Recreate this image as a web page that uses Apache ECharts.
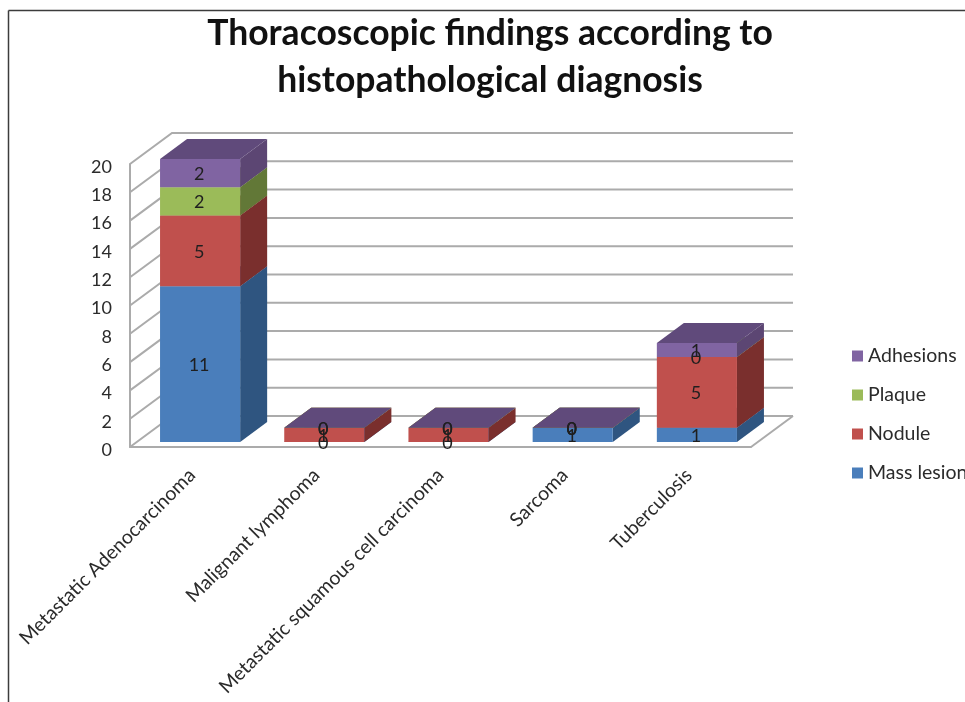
<!DOCTYPE html>
<html>
<head>
<meta charset="utf-8">
<title>Thoracoscopic findings</title>
<script src="https://cdn.jsdelivr.net/npm/echarts@6/dist/echarts.min.js"></script>
<style>
  html, body { margin: 0; padding: 0; background: #fff; overflow: hidden; }
  #chart { width: 965px; height: 702px; }
</style>
</head>
<body>
<div id="chart"></div>
<script>
const categories = ['Metastatic Adenocarcinoma', 'Malignant lymphoma', 'Metastatic squamous cell carcinoma', 'Sarcoma', 'Tuberculosis'];
const massLesion = [11, 0, 0, 1, 1];
const nodule = [5, 1, 1, 0, 5];
const plaque = [2, 0, 0, 0, 0];
const adhesions = [2, 0, 0, 0, 1];
const yTicks = [0, 2, 4, 6, 8, 10, 12, 14, 16, 18, 20];

const FONT = 'Lato';
// fake 3d: wall depth, bar depth, and how far bars sit behind the front edge
const WALL = [42, -31];
const BAR = [27, -20];
const INSET = [8, -5];

const myChart = echarts.init(document.getElementById('chart'));

function poly(points, fill) {
  return { type: 'polygon', shape: { points: points }, style: { fill: fill } };
}

// back wall, side wall and floor, one entry per y tick
function renderWall(params, api) {
  const cs = params.coordSys;
  const y = api.coord([0, api.value(0)])[1];
  const right = cs.x + cs.width;
  const stroke = { stroke: '#ababab', lineWidth: 2 };
  const children = [
    { type: 'polyline', shape: { points: [[cs.x, y], [cs.x + WALL[0], y + WALL[1]], [right + WALL[0], y + WALL[1]]] }, style: Object.assign({ fill: null }, stroke) }
  ];
  if (api.value(0) === 0) {
    children.push({ type: 'line', shape: { x1: right, y1: y, x2: right + WALL[0], y2: y + WALL[1] }, style: stroke });
  }
  return { type: 'group', children: children };
}

function boxRenderer(colors) {
  return function (params, api) {
    const center = api.coord([api.value(0), 0])[0] + INSET[0];
    const half = api.size([1, 0])[0] * 0.3225;
    const y0 = api.coord([0, api.value(1)])[1] + INSET[1];
    const y1 = api.coord([0, api.value(2)])[1] + INSET[1];
    const l = center - half;
    const r = center + half;
    return {
      type: 'group',
      children: [
        poly([[r, y0], [r + BAR[0], y0 + BAR[1]], [r + BAR[0], y1 + BAR[1]], [r, y1]], colors.side),
        poly([[l, y1], [l + BAR[0], y1 + BAR[1]], [r + BAR[0], y1 + BAR[1]], [r, y1]], colors.top),
        { type: 'rect', shape: { x: l, y: y1, width: r - l, height: y0 - y1 }, style: { fill: colors.front } },
        {
          type: 'text', z2: 100,
          style: {
            text: String(api.value(3)), x: center - 1, y: (y0 + y1) / 2 + 1,
            align: 'center', verticalAlign: 'middle',
            fontSize: 18, fontFamily: FONT, fill: '#1f1f1f'
          }
        }
      ]
    };
  };
}

const stackOrder = [
  { name: 'Mass lesion', values: massLesion, colors: { front: '#4a7ebb', side: '#2f5580', top: '#3a659a' } },
  { name: 'Nodule', values: nodule, colors: { front: '#c0504d', side: '#7a2f2d', top: '#96403d' } },
  { name: 'Plaque', values: plaque, colors: { front: '#9bbb59', side: '#627837', top: '#7a9446' } },
  { name: 'Adhesions', values: adhesions, colors: { front: '#8064a2', side: '#5c4673', top: '#604a7b' } }
];

const running = categories.map(() => 0);
const boxSeries = stackOrder.map(s => {
  const data = s.values.map((v, i) => {
    const base = running[i];
    running[i] += v;
    return [i, base, running[i], v];
  });
  return {
    name: s.name,
    type: 'custom',
    silent: true,
    itemStyle: { color: s.colors.front },
    encode: { x: 0, y: [1, 2] },
    data: data,
    renderItem: boxRenderer(s.colors)
  };
});

const option = {
  animation: false,
  backgroundColor: '#fff',
  title: {
    text: 'Thoracoscopic findings according to\nhistopathological diagnosis',
    left: 485,
    top: 5,
    textAlign: 'center',
    textStyle: { fontFamily: FONT, fontWeight: 'bold', fontSize: 35.5, lineHeight: 47, color: '#111' }
  },
  legend: {
    left: 847,
    top: 341,
    orient: 'vertical',
    align: 'left',
    itemWidth: 11,
    itemHeight: 11,
    itemGap: 19,
    icon: 'rect',
    selectedMode: false,
    data: ['Adhesions', 'Plaque', 'Nodule', 'Mass lesion'],
    textStyle: { fontFamily: FONT, fontSize: 19.5, color: '#2b2b2b' }
  },
  grid: { left: 130, top: 164, width: 621, height: 283 },
  xAxis: {
    type: 'category',
    data: categories,
    axisLine: { lineStyle: { color: '#ababab', width: 2 } },
    axisTick: { show: false },
    axisLabel: { interval: 0, rotate: 45, margin: 25, fontFamily: FONT, fontSize: 19.5, color: '#2b2b2b' }
  },
  yAxis: {
    type: 'value',
    min: 0,
    max: 20,
    interval: 2,
    axisLine: { show: true, lineStyle: { color: '#ababab', width: 2 } },
    axisTick: { show: false },
    splitLine: { show: false },
    axisLabel: {
      margin: 18,
      formatter: '{a|{value}}',
      rich: { a: { padding: [6, 0, 0, 0], fontFamily: FONT, fontSize: 18, color: '#2b2b2b' } }
    }
  },
  graphic: [
    { type: 'line', silent: true, shape: { x1: 8.5, y1: 10.5, x2: 965, y2: 10.5 }, style: { stroke: '#3c3c3c', lineWidth: 1.5 } },
    { type: 'line', silent: true, shape: { x1: 8.5, y1: 10.5, x2: 8.5, y2: 702 }, style: { stroke: '#3c3c3c', lineWidth: 1.5 } }
  ],
  series: [
    {
      name: 'walls',
      type: 'custom',
      silent: true,
      encode: { y: 0 },
      data: yTicks.map(t => [t]),
      renderItem: renderWall
    }
  ].concat(boxSeries)
};

option && myChart.setOption(option);
</script>
</body>
</html>
